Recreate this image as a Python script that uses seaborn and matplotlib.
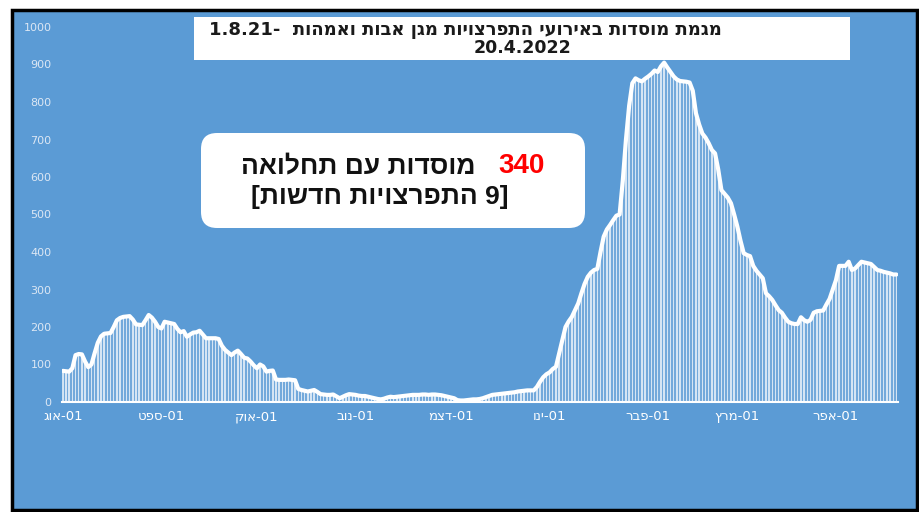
import matplotlib
matplotlib.use('Agg')
import matplotlib.pyplot as plt
from matplotlib.patches import Rectangle, FancyBboxPatch
from matplotlib.transforms import IdentityTransform
import pandas as pd
import seaborn as sns

# daily counts of institutions with outbreaks, 1.8.21 - 20.4.22
aug = [83, 82, 81, 90, 125, 128, 127, 108, 93, 100, 130, 158, 175, 182, 183, 184, 200, 218, 224, 227,
       228, 229, 220, 207, 206, 205, 218, 232, 225, 214, 200]
sep = [196, 214, 212, 210, 208, 195, 186, 189, 174, 180, 185, 186, 190, 180, 170, 170, 170, 170, 168, 150,
       139, 132, 125, 132, 137, 128, 118, 116, 108, 98]
oct_ = [90, 100, 95, 81, 83, 84, 60, 59, 59, 59, 60, 59, 58, 35, 32, 30, 28, 30, 32, 27,
        21, 20, 19, 19, 20, 15, 10, 14, 18, 21, 20]
nov = [19, 17, 16, 16, 14, 12, 10, 8, 7, 9, 12, 14, 13, 14, 15, 16, 17, 18, 19, 19,
       19, 20, 20, 19, 20, 20, 19, 18, 16, 14]
dec = [12, 10, 5, 4, 4, 5, 6, 7, 7, 8, 10, 13, 16, 19, 20, 21, 22, 23, 24, 25,
       26, 28, 29, 30, 31, 31, 31, 40, 54, 66, 74]
jan = [79, 88, 94, 130, 165, 200, 215, 227, 245, 263, 290, 315, 334, 345, 352, 355, 400, 441, 460, 472,
       485, 497, 500, 590, 700, 790, 850, 863, 858, 855, 862]
feb = [868, 875, 884, 880, 895, 905, 892, 880, 868, 860, 856, 855, 854, 852, 830, 770, 740, 716, 705, 690,
       672, 663, 620, 565, 555, 545, 530, 500]
mar = [468, 430, 397, 392, 389, 363, 350, 340, 330, 290, 282, 272, 258, 245, 238, 225, 214, 210, 208, 208,
       226, 218, 214, 219, 238, 242, 243, 244, 260, 275, 300]
apr = [325, 363, 363, 363, 374, 352, 356, 365, 374, 372, 370, 368, 360, 352, 350, 347, 345, 343, 340, 340]

values = aug + sep + oct_ + nov + dec + jan + feb + mar + apr
dates = pd.date_range('2021-08-01', '2022-04-20', freq='D')

# month tick labels, written in visual (left-to-right) order
month_labels = ['גוא-01', 'טפס-01', 'קוא-01', 'בונ-01', 'מצד-01', 'וני-01', 'רבפ-01', 'ץרמ-01', 'רפא-01']
month_ticks = pd.date_range('2021-08-01', '2022-04-01', freq='MS')

title_1 = '1.8.21-  תוהמאו תובא ןגמ תויוצרפתה יעוריאב תודסומ תמגמ'
title_2 = '20.4.2022'
box_count = '340'
box_line1 = 'האולחת םע תודסומ'
box_line2 = '[תושדח תויוצרפתה 9]'

df = pd.DataFrame({'date': dates, 'value': values})

sns.set_style('white')
plt.rcParams['font.family'] = ['Liberation Sans', 'DejaVu Sans']

W, H = 920, 512
fig = plt.figure(figsize=(W / 100, H / 100), dpi=100)
fig.patch.set_facecolor('white')

blue = '#5b9bd5'
# blue panel with black frame (pixel coords, origin bottom-left)
fig.add_artist(Rectangle((12, 2), 905, 500, transform=IdentityTransform(),
                         facecolor=blue, edgecolor='black', linewidth=2.5, zorder=0))

ax = fig.add_axes([62 / W, (H - 402) / H, 836 / W, 375 / H])
ax.set_facecolor('none')

ax.fill_between(df['date'], df['value'], color='white', alpha=0.15, linewidth=0)
ax.bar(df['date'], df['value'], width=0.45, color='white', alpha=0.7, linewidth=0)
sns.lineplot(data=df, x='date', y='value', ax=ax, color='white', linewidth=3)

ax.set_xlim(dates[0] - pd.Timedelta(hours=6), dates[-1] + pd.Timedelta(hours=12))
ax.set_ylim(0, 1000)
ax.set_yticks(range(0, 1001, 100))
ax.set_xticks(month_ticks)
ax.set_xticklabels(month_labels, family=['DejaVu Sans'])
ax.set_yticklabels([str(v) for v in range(0, 1001, 100)], family=['DejaVu Sans'])
ax.set_xlabel('')
ax.set_ylabel('')
for s in ['top', 'right', 'left']:
    ax.spines[s].set_visible(False)
ax.spines['bottom'].set_color('white')
ax.spines['bottom'].set_linewidth(1.5)
ax.tick_params(axis='x', colors='white', length=4, width=1.2, labelsize=9.5, pad=2)
ax.tick_params(axis='y', length=0, labelcolor='#dce7f4', labelsize=8, pad=7.5)
ax.grid(False)

# title box
fig.add_artist(Rectangle((194, H - 60), 656, 43, transform=IdentityTransform(),
                         facecolor='white', edgecolor='none', zorder=3))
fig.text(465 / W, 1 - 30 / H, title_1, ha='center', va='center', fontsize=13,
         fontweight='bold', color='#1a1a1a', family=['DejaVu Sans'], zorder=4)
fig.text(523 / W, 1 - 48 / H, title_2, ha='center', va='center', fontsize=12.5,
         fontweight='bold', color='#1a1a1a', family=['DejaVu Sans'], zorder=4)

# rounded info box
fig.add_artist(FancyBboxPatch((215, H - 214), 356, 67, transform=IdentityTransform(),
                              boxstyle='round,pad=14,rounding_size=16',
                              facecolor='white', edgecolor='none', zorder=3))
fig.text(545 / W, 1 - 166 / H, box_count, ha='right', va='center', fontsize=20,
         fontweight='bold', color='#ff0000', zorder=4)
fig.text(476 / W, 1 - 166 / H, box_line1, ha='right', va='center', fontsize=19,
         fontweight='bold', color='#111111', zorder=4)
fig.text(380 / W, 1 - 197 / H, box_line2, ha='center', va='center', fontsize=19,
         fontweight='bold', color='#111111', zorder=4)

fig.savefig('out.png', dpi=100, facecolor='white')
